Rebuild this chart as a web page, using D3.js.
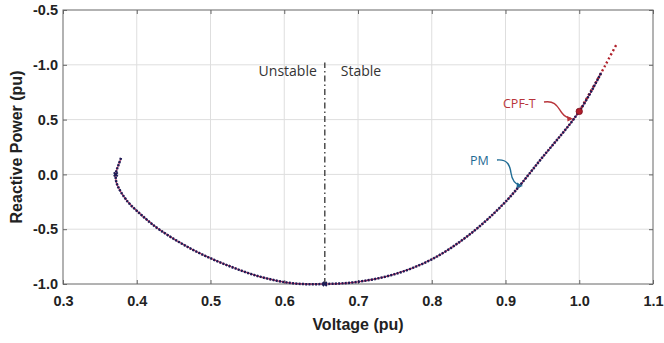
<!DOCTYPE html>
<html><head><meta charset="utf-8">
<script src="https://cdn.jsdelivr.net/npm/d3@7"></script>
<style>body{margin:0;background:#fff}svg{display:block}</style>
</head><body><svg id="c" width="664" height="343"></svg>
<script>
// Data
const xTicks = [0.3,0.4,0.5,0.6,0.7,0.8,0.9,1.0,1.1];
const xTickLabels = ["0.3","0.4","0.5","0.6","0.7","0.8","0.9","1.0","1.1"];
const yTicks = [-1.0,-0.5,0.0,0.5,1.0,1.5];
const yTickLabels = ["-1.0","-0.5","0.0","0.5","-1.0","-0.5"];
// PM method points (voltage, reactive power)
const pmV = [0.3786,0.3755,0.3728,0.3715,0.3728,0.386,0.409,0.4315,0.4767,0.522,0.567,0.612,0.655,0.7,0.75,0.8,0.85,0.9,0.95,1.0,1.03];
const pmQ = [0.15,0.09,0.04,0.0,-0.081,-0.234,-0.386,-0.507,-0.69,-0.827,-0.933,-0.994,-1.0,-0.98,-0.91,-0.775,-0.555,-0.25,0.155,0.575,0.93];
// CPF-T points
const cpfV = [0.3786,0.3755,0.3728,0.3715,0.3728,0.386,0.409,0.4315,0.4767,0.522,0.567,0.612,0.655,0.7,0.75,0.8,0.85,0.9,0.95,1.0,1.03,1.04,1.05];
const cpfQ = [0.15,0.09,0.04,0.0,-0.081,-0.234,-0.386,-0.507,-0.69,-0.827,-0.933,-0.994,-1.0,-0.98,-0.91,-0.775,-0.555,-0.25,0.155,0.575,0.93,1.055,1.18];
const cpfPoint = [1.0, 0.575];
const boundaryV = 0.655;
const boundaryTopQ = 1.02;

const svg = d3.select("#c");
const L=63, R=653, T=10, B=284;
const x = d3.scaleLinear().domain([0.3,1.1]).range([L,R]);
const y = d3.scaleLinear().domain([-1.0,1.5]).range([B,T]);

// grid
const g = svg.append("g");
g.selectAll(".gx").data(xTicks.slice(1,-1)).enter().append("line")
 .attr("x1",d=>x(d)).attr("x2",d=>x(d)).attr("y1",T).attr("y2",B)
 .attr("stroke","#dedede").attr("stroke-width",1);
g.selectAll(".gy").data(yTicks.slice(1,-1)).enter().append("line")
 .attr("y1",d=>y(d)).attr("y2",d=>y(d)).attr("x1",L).attr("x2",R)
 .attr("stroke","#dedede").attr("stroke-width",1);

// box
svg.append("rect").attr("x",L).attr("y",T).attr("width",R-L).attr("height",B-T)
 .attr("fill","none").attr("stroke","#666").attr("stroke-width",1);

// axes with inward ticks
const fmtX = (d,i)=>xTickLabels[i];
const fmtY = (d,i)=>yTickLabels[i];
svg.append("g").attr("transform",`translate(0,${B})`)
 .call(d3.axisBottom(x).tickValues(xTicks).tickFormat(fmtX).tickSize(-4).tickPadding(12));
svg.append("g").attr("transform",`translate(${L},0)`)
 .call(d3.axisLeft(y).tickValues(yTicks).tickFormat(fmtY).tickSize(-4).tickPadding(5));
svg.append("g").attr("transform",`translate(${R},0)`)
 .call(d3.axisRight(y).tickValues(yTicks).tickFormat("").tickSize(-4));
svg.append("g").attr("transform",`translate(0,${T})`)
 .call(d3.axisTop(x).tickValues(xTicks).tickFormat("").tickSize(-4));
svg.selectAll(".domain").remove();
svg.selectAll(".tick line").attr("stroke","#666");
svg.selectAll(".tick text").attr("font-family","Liberation Sans, Arial, sans-serif")
 .attr("font-weight","bold").attr("font-size","14.5px").attr("fill","#222");

// axis titles
svg.append("text").attr("x",(L+R)/2).attr("y",330).attr("text-anchor","middle")
 .attr("font-family","Liberation Sans, Arial, sans-serif").attr("font-weight","bold")
 .attr("font-size","16px").attr("fill","#222").text("Voltage (pu)");
svg.append("text").attr("transform",`translate(22,${(T+B)/2}) rotate(-90)`).attr("text-anchor","middle")
 .attr("font-family","Liberation Sans, Arial, sans-serif").attr("font-weight","bold")
 .attr("font-size","16px").attr("fill","#222").text("Reactive Power (pu)");

// boundary dash-dot line
svg.append("line").attr("x1",x(boundaryV)).attr("x2",x(boundaryV))
 .attr("y1",y(-1.0)).attr("y2",y(boundaryTopQ))
 .attr("stroke","#333").attr("stroke-width",1.3).attr("stroke-dasharray","6,3,1.5,3");
svg.append("text").attr("x",x(boundaryV)-8).attr("y",76).attr("text-anchor","end")
 .attr("font-family","Open Sans, sans-serif").attr("font-size","14px").attr("fill","#333").text("Unstable");
svg.append("text").attr("x",x(boundaryV)+16).attr("y",76).attr("text-anchor","start")
 .attr("font-family","Open Sans, sans-serif").attr("font-size","14px").attr("fill","#333").text("Stable");

// curves
const line = d3.line().x(d=>x(d[0])).y(d=>y(d[1])).curve(d3.curveCatmullRom.alpha(0.5));
const cpf = cpfV.map((v,i)=>[v,cpfQ[i]]);
const pm = pmV.map((v,i)=>[v,pmQ[i]]);
svg.append("path").attr("d",line(cpf.slice(0,21))).attr("fill","none")
 .attr("stroke","#b02a5a").attr("stroke-width",1.2);
svg.append("path").attr("d",line(cpf.slice(19))).attr("fill","none")
 .attr("stroke","#b0202a").attr("stroke-width",2.4).attr("stroke-dasharray","2,2.6").attr("stroke-linecap","butt");
svg.append("path").attr("d",line(pm)).attr("fill","none")
 .attr("stroke","#1c1c55").attr("stroke-width",2.5).attr("stroke-dasharray","2,1.3");

// markers
svg.append("circle").attr("cx",x(cpfPoint[0])).attr("cy",y(cpfPoint[1])).attr("r",3.2)
 .attr("fill","#b01e2a").attr("stroke","#7a1020").attr("stroke-width",0.8);
[[pmV[3],pmQ[3]],[pmV[12],pmQ[12]]].forEach(p=>{
  svg.append("path").attr("d",d3.symbol(d3.symbolCross,18)())
   .attr("transform",`translate(${x(p[0])},${y(p[1])}) rotate(45)`).attr("fill","#1c1c55");
});

// annotations
svg.append("text").attr("x",503).attr("y",108).attr("font-family","Open Sans, sans-serif")
 .attr("font-size","12.5px").attr("fill","#b8343a").text("CPF-T");
svg.append("path").attr("d","M544,102 C556,100 558,108 562,113 C565,117 568,118 571,118.5")
 .attr("fill","none").attr("stroke","#b8343a").attr("stroke-width",1.4);
svg.append("path").attr("d","M573,118.8 L567,116 L567.5,121.5 Z").attr("fill","#b8343a");
svg.append("text").attr("x",470).attr("y",165).attr("font-family","Open Sans, sans-serif")
 .attr("font-size","12.5px").attr("fill","#1f6b94").text("PM");
svg.append("path").attr("d","M497,160 C508,159 510,166 511,173 C512,180 515,184 520,185.5")
 .attr("fill","none").attr("stroke","#1f6b94").attr("stroke-width",1.4);
svg.append("path").attr("d","M523,186 L517,182.5 L516.5,188 Z").attr("fill","#1f6b94");
</script></body></html>
